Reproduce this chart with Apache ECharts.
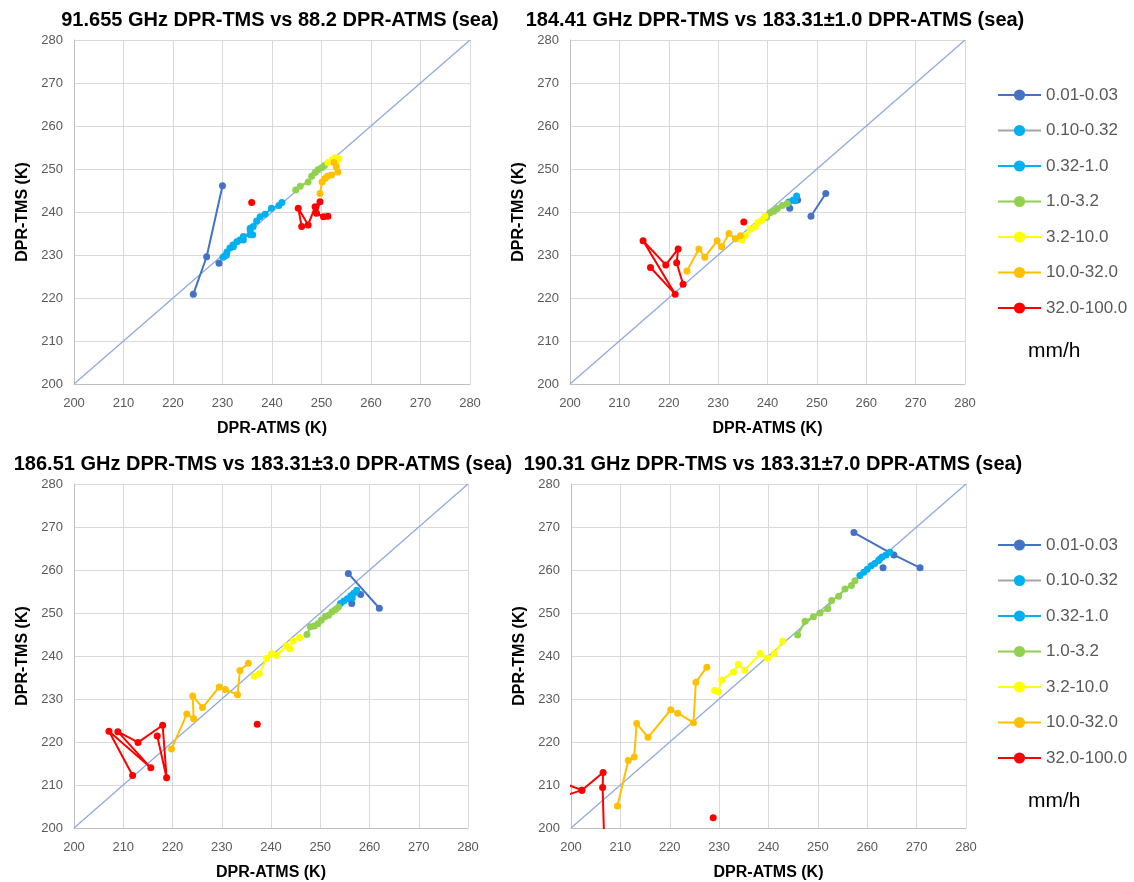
<!DOCTYPE html>
<html><head><meta charset="utf-8">
<script src="https://cdn.jsdelivr.net/npm/echarts@6/dist/echarts.min.js"></script>
<style>html,body{margin:0;padding:0;background:#fff}#c{width:1134px;height:882px}</style>
</head><body><div id="c"></div>
<script>
// ---- categories (rain rate, mm/h) ----
const categories = ['0.01-0.03','0.10-0.32','0.32-1.0','1.0-3.2','3.2-10.0','10.0-32.0','32.0-100.0'];
const titles = [
  '91.655 GHz DPR-TMS vs 88.2 DPR-ATMS (sea)',
  '184.41 GHz DPR-TMS vs 183.31\u00b11.0 DPR-ATMS (sea)',
  '186.51 GHz DPR-TMS vs 183.31\u00b13.0 DPR-ATMS (sea)',
  '190.31 GHz DPR-TMS vs 183.31\u00b17.0 DPR-ATMS (sea)'
];
const axisMin = 200, axisMax = 280, axisStep = 10;
const diagonal = [[200,200],[280,280]];
// null = gap in the line

// Panel 1: 91.655 GHz
const p1_001 = [[224.1,220.9],[226.8,229.6],[230.0,246.1],null,[229.3,228.1]];
const p1_010 = [];
const p1_032 = [[230.1,229.5],[230.5,229.8],[230.9,230.7],[230.8,230.0],[231.5,231.6],[232.2,231.9],[232.1,232.3],[232.9,233.1],[233.5,233.5],[234.2,233.5],[234.2,234.3],[235.6,234.7],[236.1,234.7],[235.6,235.8],[235.6,236.2],[236.2,236.6],[236.9,237.9],[237.6,238.9],[238.6,239.5],[239.9,240.9],[241.4,241.5],[242.0,242.2]];
const p1_10 = [[244.8,245.1],[245.7,246.0],[247.3,247.0],[248.0,248.3],[248.7,249.2],[249.3,249.8],[250.0,250.3],[250.6,250.8]];
const p1_32 = [[251.3,251.5],[252.2,252.2],[252.8,252.6],[253.5,252.4],[253.0,251.8]];
const p1_100 = [[252.5,251.5],[253.0,250.5],[253.3,249.3],[252.0,248.6],[251.2,248.3],[250.7,247.8],[250.1,247.0],[249.7,244.3]];
const p1_320 = [[246.0,236.6],[245.3,240.9],[247.3,237.0],[248.7,241.2],[249.7,242.4],[249.0,239.7],[250.4,238.9],[251.3,239.0],null,[235.9,242.2]];

// Panel 2: 184.41 GHz
const p2_001 = [[244.5,240.9],null,[246.1,242.8],null,[248.8,239.0],[251.8,244.3]];
const p2_010 = [];
const p2_032 = [[244.3,242.3],[245.2,242.8],[245.9,243.7],[245.5,242.6]];
const p2_10 = [[239.8,238.8],[240.5,239.8],[241.3,240.2],[242.0,240.8],[243.0,241.5],[244.0,242.0]];
const p2_32 = [[234.8,233.5],[235.5,234.5],[236.5,236.0],[237.5,236.5],[238.0,237.5],[238.8,238.0],[239.5,239.0]];
const p2_100 = [[223.7,226.3],[226.1,231.4],[227.3,229.5],[229.8,233.3],[230.7,231.9],[232.2,235.0],[233.5,233.8],[234.5,234.5]];
const p2_320 = [[216.3,227.1],[221.3,220.9],[214.8,233.3],[219.4,227.7],[221.9,231.4],[221.6,228.2],[222.9,223.2],null,[235.2,237.7]];

// Panel 3: 186.51 GHz
const p3_001 = [[255.7,259.2],[262.0,251.1],null,[258.2,254.3],null,[256.4,252.2]];
const p3_010 = [];
const p3_032 = [[254.1,252.2],[254.8,252.8],[255.5,253.3],[256.2,254.0],[256.8,254.6],[257.4,255.3],[256.5,253.5]];
const p3_10 = [[247.3,245.0],[248.0,246.8],[248.8,247.0],[249.5,247.5],[250.2,248.3],[251.0,249.2],[251.7,249.5],[252.4,250.3],[253.1,250.8],[253.7,251.4]];
const p3_32 = [[236.6,235.3],[237.6,235.9],[239.1,239.4],[240.1,240.5],[241.1,240.1],[243.1,242.4],[243.8,241.7],[244.5,243.5],[245.8,244.3]];
const p3_100 = [[219.8,218.4],[222.9,226.5],[224.3,225.4],[224.1,230.7],[226.1,228.0],[229.5,232.8],[230.7,232.2],[233.2,231.0],[233.7,236.6],[235.4,238.3]];
const p3_320 = [[211.9,212.2],[207.1,222.5],[215.6,214.0],[208.9,222.4],[213.0,219.9],[218.0,223.9],[218.8,211.7],[216.9,221.4],null,[237.2,224.1]];

// Panel 4: 190.31 GHz
const p4_001 = [[257.3,268.7],[265.4,263.5],[270.7,260.5],null,[263.2,260.5]];
const p4_010 = [];
const p4_032 = [[258.5,258.7],[259.3,259.5],[260.0,260.2],[260.8,261.0],[261.5,261.5],[262.3,262.2],[263.0,263.0],[263.8,263.5],[264.6,264.1],[262.5,262.5]];
const p4_10 = [[245.9,244.9],[247.4,248.1],[249.1,249.1],[250.4,250.0],[252.0,251.0],[252.8,252.9],[254.2,253.9],[255.5,255.6],[256.8,256.4],[257.5,257.5]];
const p4_32 = [[229.1,232.0],[229.8,231.7],[230.5,234.4],[232.9,236.3],[233.9,238.0],[235.2,236.7],[238.3,240.6],[239.8,239.5],[241.2,240.6],[242.9,243.5]];
const p4_100 = [[209.4,205.1],[211.6,215.7],[212.8,216.5],[213.3,224.3],[215.6,221.1],[220.2,227.5],[221.6,226.7],[224.8,224.5],[225.3,233.9],[227.5,237.4]];
const p4_320 = [[196.0,211.5],[202.2,208.8],[196.0,206.5],null,[202.2,208.8],[206.5,212.9],[206.4,209.4],[206.8,194.0],null,[228.8,202.4]];

const panels = [
  [p1_001,p1_010,p1_032,p1_10,p1_32,p1_100,p1_320],
  [p2_001,p2_010,p2_032,p2_10,p2_32,p2_100,p2_320],
  [p3_001,p3_010,p3_032,p3_10,p3_32,p3_100,p3_320],
  [p4_001,p4_010,p4_032,p4_10,p4_32,p4_100,p4_320]
];

const markerColors = ['#4472C4','#00B0F0','#00B0F0','#92D050','#FFFF00','#FFC000','#FF0000'];
const lineColors   = ['#4472C4','#A5A5A5','#00B0F0','#92D050','#FFFF00','#FFC000','#FF0000'];

const grids = [
  {left:74, top:40, width:396, height:344},
  {left:570, top:40, width:395, height:344},
  {left:74, top:484, width:394, height:346},
  {left:571, top:484, width:395, height:347}
];
const titlePos = [{x:275,y:5},{x:770,y:5},{x:258,y:449},{x:768,y:449}];

const chart = echarts.init(document.getElementById('c'));
const FONT = 'Liberation Sans';

const xAxes = [], yAxes = [], series = [], titleOpts = [];
grids.forEach((g,i)=>{
  titleOpts.push({text:titles[i], left:titlePos[i].x, top:titlePos[i].y, textAlign:'center',
    textStyle:{fontFamily:FONT, fontWeight:'bold', fontSize:20, color:'#000'}});
  const common = {
    gridIndex:i, type:'value', min:axisMin, max:axisMax, interval:axisStep,
    axisLine:{show:true, lineStyle:{color:'#BFBFBF', width:1}},
    axisTick:{show:false},
    splitLine:{show:true, lineStyle:{color:'#D9D9D9', width:1}},
    axisLabel:{color:'#595959', fontFamily:FONT, fontSize:13},
    nameLocation:'middle',
    nameTextStyle:{fontFamily:FONT, fontWeight:'bold', fontSize:16, color:'#000'}
  };
  xAxes.push(Object.assign({}, common, {name:'DPR-ATMS (K)', nameGap:37,
    axisLabel:Object.assign({}, common.axisLabel, {margin:13})}));
  yAxes.push(Object.assign({}, common, {name:'DPR-TMS (K)', nameGap:43,
    axisLabel:Object.assign({}, common.axisLabel, {margin:11})}));
  series.push({type:'line', name:'1:1', xAxisIndex:i, yAxisIndex:i, data:diagonal,
    symbol:'none', silent:true, lineStyle:{color:'#8FAADC', width:1.3}, z:1});
  panels[i].forEach((arr,k)=>{
    series.push({
      type:'line', name:categories[k], xAxisIndex:i, yAxisIndex:i,
      data:arr.map(p=>p ? p : ['-','-']),
      connectNulls:false, clip:true,
      symbol:'circle', symbolSize:7,
      itemStyle:{color:markerColors[k]},
      lineStyle:{color:lineColors[k], width:2},
      z:2+k
    });
  });
});

const legendBase = {
  orient:'vertical', left:992, data:categories,
  itemWidth:43, itemHeight:14, itemGap:18.5,
  textStyle:{color:'#595959', fontFamily:FONT, fontSize:17},
  selectedMode:false
};

chart.setOption({
  backgroundColor:'#fff',
  animation:false,
  title:titleOpts,
  grid:grids,
  xAxis:xAxes,
  yAxis:yAxes,
  legend:[Object.assign({}, legendBase, {top:81.5}), Object.assign({}, legendBase, {top:531.5})],
  graphic:[
    {type:'text', left:1028, top:341, style:{text:'mm/h', font:'21px Liberation Sans', fill:'#000'}},
    {type:'text', left:1028, top:791, style:{text:'mm/h', font:'21px Liberation Sans', fill:'#000'}}
  ],
  series:series
});
</script></body></html>
